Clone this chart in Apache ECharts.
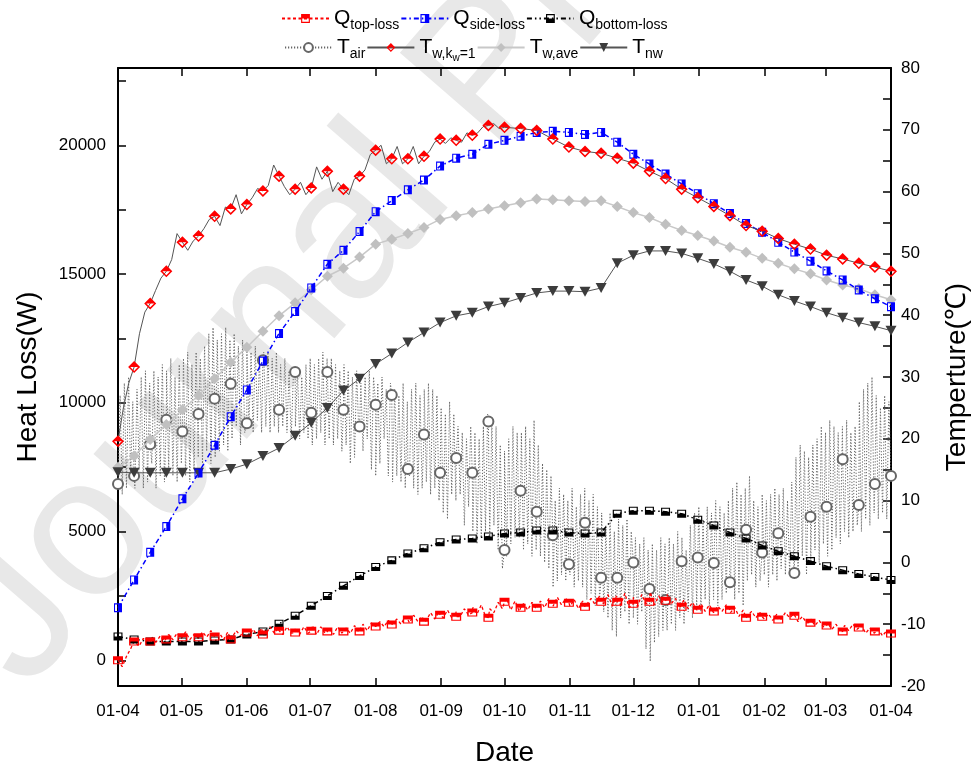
<!DOCTYPE html>
<html>
<head>
<meta charset="utf-8">
<title>Heat loss and temperature</title>
<script src="https://cdn.jsdelivr.net/npm/echarts@6.0.0/dist/echarts.min.js"></script>
<style>
  html, body { margin: 0; padding: 0; background: #ffffff; }
  #chart { width: 979px; height: 772px; }
</style>
</head>
<body>
<div id="chart"></div>
<script>
// ---------- time base ----------
const DAY_MS = 86400000;
const START_DATE = '2015-04-01';
const END_DATE = '2016-04-01';
// symbols sit every 183 hourly samples (7.625 days)
const SYMBOL_STEP_DAYS = 7.625;
const TOP_LOSS_STEP_DAYS = 2;   // Q_top-loss trace sampling
const AIR_STEP_DAYS = 1;        // T_air trace sampling

const monthTickDates = ['2015-04-01', '2015-05-01', '2015-06-01', '2015-07-01', '2015-08-01',
  '2015-09-01', '2015-10-01', '2015-11-01', '2015-12-01', '2016-01-01', '2016-02-01',
  '2016-03-01', '2016-04-01'];
const heatLossLabelValues = [0, 5000, 10000, 15000, 20000];
const heatLossTickValues = [0, 2500, 5000, 7500, 10000, 12500, 15000, 17500, 20000, 22500];

// ---------- heat loss (W), values at symbol positions ----------
const qTopMarks = [0, 730, 730, 810, 890, 890, 920, 810, 1080, 1000, 1150, 1080, 1150, 1120, 1120,
  1120, 1310, 1390, 1580, 1500, 1770, 1690, 1850, 1650, 2270, 2040, 2040, 2190, 2230, 2080, 2270,
  2270, 2190, 2270, 2310, 2080, 1960, 1890, 1960, 1650, 1690, 1580, 1730, 1460, 1350, 1120, 1270,
  1120, 1040];
// Q_top-loss trace, one value every 2 days
const qTopTrace = [
  0, -250, 150, 450, 700, 550, 850, 650, 900, 700,
  950, 750, 1000, 800, 1050, 850, 1100, 800, 1000, 850,
  1100, 900, 1150, 900, 1050, 800, 1100, 850, 1150, 950,
  1250, 950, 1200, 950, 1250, 1000, 1300, 1050, 1250, 1000,
  1300, 1050, 1250, 1000, 1300, 1050, 1350, 1000, 1300, 1050,
  1250, 1000, 1300, 1050, 1250, 1050, 1350, 1100, 1400, 1150,
  1450, 1250, 1500, 1300, 1550, 1350, 1600, 1400, 1700, 1450,
  1750, 1500, 1700, 1550, 1850, 1600, 1900, 1650, 1950, 1650,
  1900, 1700, 2000, 1750, 2050, 1800, 2150, 1700, 2000, 1850,
  2250, 2000, 2400, 1950, 2300, 1900, 2200, 1950, 2250, 2000,
  2300, 2050, 2400, 2100, 2450, 2150, 2400, 2100, 2350, 2000,
  2300, 2050, 2400, 2150, 2500, 2200, 2550, 2100, 2500, 2150,
  2600, 2050, 2450, 2100, 2550, 2200, 2650, 2150, 2500, 2250,
  2550, 2200, 2400, 2050, 2350, 2000, 2250, 1950, 2200, 1900,
  2150, 1850, 2100, 1900, 2150, 1850, 2050, 1700, 1950, 1650,
  1900, 1650, 1850, 1600, 1800, 1550, 1800, 1600, 1850, 1650,
  1800, 1500, 1700, 1450, 1600, 1350, 1550, 1300, 1450, 1200,
  1400, 1100, 1350, 1150, 1400, 1200, 1350, 1050, 1250, 1050,
  1200, 950, 1150, 1100];
const qSideMarks = [2040, 3120, 4190, 5190, 6270, 7270, 8350, 9460, 10500, 11620, 12690, 13540,
  14460, 15380, 15920, 16650, 17420, 17850, 18270, 18650, 19190, 19500, 19650, 20040, 20190, 20350,
  20500, 20540, 20500, 20420, 20500, 20120, 19650, 19270, 18880, 18500, 18120, 17730, 17350, 16960,
  16620, 16230, 15850, 15500, 15120, 14770, 14380, 14040, 13730];
const qBottomMarks = [920, 810, 730, 730, 730, 730, 770, 810, 1000, 1120, 1420, 1730, 2120, 2500,
  2890, 3270, 3620, 3880, 4150, 4350, 4580, 4690, 4730, 4810, 4920, 4960, 5040, 5040, 4960, 4920,
  4960, 5690, 5810, 5810, 5770, 5690, 5460, 5230, 4960, 4730, 4460, 4230, 4040, 3850, 3650, 3500,
  3350, 3230, 3120];

// ---------- temperatures (°C), values at symbol positions ----------
const tAirMarks = [12.7, 14.0, 19.1, 23.1, 21.2, 24.0, 26.5, 28.9, 22.5, 32.7, 24.7, 30.8, 24.2,
  30.8, 24.7, 22.0, 25.5, 27.1, 15.1, 20.7, 14.5, 16.9, 14.5, 22.8, 2.0, 11.6, 8.2, 4.4, -0.3, 6.4,
  -2.5, -2.5, 0.0, -4.3, -6.1, 0.2, 0.8, -0.1, -3.2, 5.3, 1.6, 4.7, -1.7, 7.4, 9.0, 16.7, 9.3,
  12.7, 14.0];
// T_air trace, one value per day (day/night swing)
const tAirTrace = [
  13, 27, 11, 29, 12, 30, 14, 26, 12, 28,
  15, 30, 12, 31, 13, 29, 16, 31, 12, 30,
  14, 32, 13, 31, 15, 33, 14, 30, 13, 32,
  16, 33, 14, 34, 13, 32, 15, 34, 17, 33,
  16, 35, 18, 37, 16, 38, 17, 36, 18, 37,
  19, 38, 18, 36, 20, 37, 22, 35, 19, 36,
  21, 35, 22, 34, 21, 35, 23, 33, 21, 34,
  22, 34, 21, 33, 22, 34, 21, 32, 22, 33,
  21, 31, 20, 30, 22, 31, 20, 30, 21, 32,
  20, 33, 19, 32, 20, 33, 21, 34, 19, 33,
  20, 33, 19, 32, 20, 31, 18, 32, 19, 31,
  16, 30, 17, 31, 21, 29, 18, 30, 20, 31,
  15, 30, 14, 29, 16, 30, 20, 28, 14, 29,
  13, 28, 14, 27, 13, 29, 12, 26, 14, 28,
  12, 29, 11, 27, 12, 28, 13, 29, 11, 28,
  12, 27, 10, 25, 8, 24, 7, 26, 11, 24,
  10, 22, 11, 21, 6, 20, 9, 22, 5, 21,
  3, 20, 4, 22, 5, 24, 4, 23, 6, 22,
  2, 19, -1, 18, 1, 20, 3, 22, 4, 21,
  4, 21, 2, 22, 3, 20, 1, 23, 2, 19,
  1, 16, 0, 15, -1, 14, -4, 10, -3, 12,
  -2, 11, -3, 10, -2, 12, -4, 9, -3, 11,
  -4, 12, -6, 10, -5, 11, -7, 9, -6, 8,
  -8, 6, -9, 8, -11, 5, -12, 7, -9, 6,
  -8, 7, -10, 5, -9, 4, -10, 3, -8, 4,
  -14, 2, -16, 3, -13, 2, -12, 4, -11, 3,
  -11, 4, -10, 3, -11, 5, -9, 4, -10, 2,
  -8, 6, -9, 8, -7, 9, -8, 7, -6, 9,
  -7, 8, -6, 10, -7, 9, -6, 8, -5, 10,
  -4, 12, -6, 13, -5, 11, -7, 12, -3, 14,
  -2, 10, -4, 9, -3, 11, -2, 10, -4, 11,
  -2, 12, -3, 11, -1, 12, -2, 10, -2, 13,
  -1, 17, -2, 19, 1, 18, -2, 17, 0, 19,
  2, 20, 0, 22, 3, 21, 1, 23, 2, 22,
  4, 21, 3, 22, 5, 23, 4, 21, 5, 22,
  6, 26, 5, 28, 7, 29, 6, 30, 8, 27,
  7, 25, 8, 27, 7, 26];
const tw1Marks = [19.6, 31.6, 41.9, 47.1, 51.8, 52.8, 56.0, 57.2, 57.9, 60.1, 62.5, 60.4, 60.6,
  63.3, 60.4, 62.5, 66.7, 65.3, 65.3, 65.7, 68.5, 68.3, 69.1, 70.7, 70.4, 70.2, 69.9, 68.5, 67.2,
  66.5, 66.2, 65.4, 64.6, 63.3, 62.1, 60.4, 59.0, 57.6, 56.1, 54.5, 53.6, 52.4, 51.5, 50.7, 49.7,
  49.1, 48.4, 47.8, 47.1];
// two extra samples between each pair of symbols while the water is still heating (Apr - Sep)
const tw1Between = [25, 29, 37, 40.5, 44, 46, 49, 53.2, 50.5, 52, 54, 55.5, 54.5, 57.5, 59.5, 56.4,
  59, 60.5, 61, 64.3, 60.8, 59.5, 61.5, 59.5, 64, 62, 60, 61.5, 59.5, 62, 63.5, 66, 67.5, 64.5,
  67.3, 64.5, 67.3, 64.5, 66.5, 68, 67.8, 68.7, 68, 69.5, 69.5, 70.5, 71, 70.2];
const twAveMarks = [15.4, 17.2, 19.9, 22.3, 24.7, 27.0, 29.7, 32.4, 34.8, 37.4, 39.9, 42.0, 44.1,
  46.3, 47.6, 49.4, 51.5, 52.3, 53.2, 54.2, 55.5, 56.1, 56.6, 57.2, 57.7, 58.2, 58.8, 58.7, 58.5,
  58.4, 58.5, 57.6, 56.6, 55.8, 54.7, 53.7, 52.9, 52.0, 51.0, 50.2, 49.2, 48.4, 47.5, 46.7, 45.7,
  44.9, 44.3, 43.3, 42.5];
const tnwMarks = [14.6, 14.5, 14.5, 14.5, 14.5, 14.5, 14.5, 15.1, 15.9, 17.2, 18.5, 20.5, 22.6,
  25.0, 27.8, 29.7, 32.1, 33.8, 35.6, 37.2, 38.8, 39.9, 40.4, 41.4, 42.0, 42.8, 43.6, 43.9, 43.9,
  43.8, 44.4, 48.4, 49.7, 50.4, 50.4, 50.0, 49.2, 48.3, 47.1, 45.7, 44.7, 43.3, 42.3, 41.4, 40.4,
  39.6, 38.8, 38.2, 37.5];

// ---------- helpers ----------
function utc(s) {
  const p = s.split('-').map(Number);
  return Date.UTC(p[0], p[1] - 1, p[2]);
}
const T0 = utc(START_DATE);
const T1 = utc(END_DATE);
const monthTicks = monthTickDates.map(utc);
const symbolStepMs = SYMBOL_STEP_DAYS * DAY_MS;

function symbolPoints(vals) {
  return vals.map((v, i) => ({ value: [T0 + i * symbolStepMs, v] }));
}
function tracePoints(vals, stepDays) {
  return vals.map((v, k) => ({ value: [T0 + k * stepDays * DAY_MS, v], symbol: 'none' }));
}
function withTrace(marks, trace) {
  return marks.concat(trace).sort((a, b) => a.value[0] - b.value[0]);
}
function tw1Points() {
  const pts = [];
  for (let i = 0; i * 2 < tw1Between.length; i++) {
    for (let k = 0; k < 2; k++) {
      pts.push({ value: [T0 + (i + (k + 1) / 3) * symbolStepMs, tw1Between[i * 2 + k]], symbol: 'none' });
    }
  }
  return withTrace(symbolPoints(tw1Marks), pts);
}
function pad2(n) { return (n < 10 ? '0' : '') + n; }
function dayMonth(v) {
  const d = new Date(v);
  return pad2(d.getUTCDate()) + '-' + pad2(d.getUTCMonth() + 1);
}

// ---------- symbols ----------
const SYM_TOP_FILLED_SQUARE = 'path://M0,0H10V10H0Z M1.3,5V8.7H8.7V5Z';
const SYM_RIGHT_FILLED_SQUARE = 'path://M0,0H10V10H0Z M1.3,1.3V8.7H5V1.3Z';
const SYM_BOTTOM_FILLED_SQUARE = 'path://M0,0H10V10H0Z M1.3,1.3V5H8.7V1.3Z';
const SYM_TOP_FILLED_DIAMOND = 'path://M5,0L10,5L5,10L0,5Z M1.8,5L5,8.2L8.2,5Z';
const SYM_DOWN_TRIANGLE = 'path://M0,0H10L5,9Z';

const FONT = '"Liberation Sans", Arial, Helvetica, sans-serif';

const legendText = {
  'Q_top-loss': '{m|Q}{s|top-loss}',
  'Q_side-loss': '{m|Q}{s|side-loss}',
  'Q_bottom-loss': '{m|Q}{s|bottom-loss}',
  'T_air': '{m|T}{s|air}',
  'T_w,kw=1': '{m|T}{s|w,k}{ss|w}{s|=1}',
  'T_w,ave': '{m|T}{s|w,ave}',
  'T_nw': '{m|T}{s|nw}'
};
const legendRich = {
  m: { fontSize: 21, fontFamily: FONT, color: '#000' },
  s: { fontSize: 14, fontFamily: FONT, color: '#000', padding: [14, 0, 0, 0] },
  ss: { fontSize: 10, fontFamily: FONT, color: '#000', padding: [22, 0, 0, 0] }
};
function legendBlock(names, left, top) {
  return {
    data: names, left: left, top: top, orient: 'horizontal',
    itemWidth: 47, itemHeight: 11, itemGap: 1, padding: 0,
    formatter: (name) => legendText[name],
    textStyle: { rich: legendRich, fontFamily: FONT },
    selectedMode: false
  };
}

const axisBlack = { color: '#000', width: 2 };
const tickBlack = { color: '#000', width: 1.5 };

const option = {
  animation: false,
  backgroundColor: '#ffffff',
  textStyle: { fontFamily: FONT },
  graphic: [{
    type: 'text', silent: true, z: -10,
    x: 60, y: 722, rotation: 49 * Math.PI / 180,
    style: {
      text: 'Journal Pre-proof', fill: '#e8e8e8',
      font: '200px ' + FONT, align: 'left', verticalAlign: 'bottom'
    }
  }],
  legend: [
    legendBlock(['Q_top-loss', 'Q_side-loss', 'Q_bottom-loss'], 281, 8),
    legendBlock(['T_air', 'T_w,kw=1', 'T_w,ave', 'T_nw'], 284, 37)
  ],
  grid: { left: 118, right: 86, top: 68, bottom: 80, containLabel: false },
  xAxis: [{
    type: 'value', min: T0, max: T1, position: 'bottom',
    name: 'Date', nameLocation: 'middle', nameGap: 53,
    nameTextStyle: { fontSize: 28, color: '#000', fontFamily: FONT },
    axisLine: { onZero: false, lineStyle: axisBlack },
    axisTick: { inside: true, length: 8, lineStyle: tickBlack, customValues: monthTicks },
    axisLabel: {
      customValues: monthTicks, fontSize: 17, color: '#000', margin: 17, fontFamily: FONT,
      formatter: dayMonth, hideOverlap: false
    },
    splitLine: { show: false }
  }, {
    type: 'value', min: T0, max: T1, position: 'top',
    axisLine: { onZero: false, lineStyle: axisBlack },
    axisTick: { inside: true, length: 8, lineStyle: tickBlack, customValues: monthTicks },
    axisLabel: { show: false },
    splitLine: { show: false }
  }],
  yAxis: [{
    type: 'value', min: -1000, max: 23000, position: 'left',
    name: 'Heat Loss(W)', nameLocation: 'middle', nameGap: 76, nameRotate: 90,
    nameTextStyle: { fontSize: 28, color: '#000', fontFamily: FONT },
    axisLine: { show: true, onZero: false, lineStyle: axisBlack },
    axisTick: { show: true, inside: true, length: 8, lineStyle: tickBlack, customValues: heatLossTickValues },
    axisLabel: {
      customValues: heatLossLabelValues, fontSize: 17, color: '#000', margin: 12, fontFamily: FONT,
      formatter: (v) => String(v)
    },
    splitLine: { show: false }
  }, {
    type: 'value', min: -20, max: 80, interval: 5, position: 'right',
    name: 'Temperture(℃)', nameLocation: 'middle', nameGap: 52, nameRotate: 90,
    nameTextStyle: { fontSize: 28, color: '#000', fontFamily: FONT },
    axisLine: { show: true, onZero: false, lineStyle: axisBlack },
    axisTick: { show: true, inside: true, length: 8, lineStyle: tickBlack },
    axisLabel: {
      fontSize: 17, color: '#000', margin: 10, fontFamily: FONT,
      formatter: (v) => (Math.round(v) % 10 === 0 ? String(v) : '')
    },
    splitLine: { show: false }
  }],
  series: [{
    name: 'T_air', type: 'line', yAxisIndex: 1, z: 2,
    data: withTrace(symbolPoints(tAirMarks), tracePoints(tAirTrace, AIR_STEP_DAYS)),
    symbol: 'emptyCircle', symbolSize: 10,
    lineStyle: { color: '#666', width: 1, type: [1.2, 1.8] },
    itemStyle: { color: '#666', borderWidth: 1 }
  }, {
    name: 'T_w,ave', type: 'line', yAxisIndex: 1, z: 3,
    data: symbolPoints(twAveMarks),
    symbol: 'diamond', symbolSize: 11,
    lineStyle: { color: '#c8c8c8', width: 1.5 },
    itemStyle: { color: '#c0c0c0' }
  }, {
    name: 'T_nw', type: 'line', yAxisIndex: 1, z: 3,
    data: symbolPoints(tnwMarks),
    symbol: SYM_DOWN_TRIANGLE, symbolSize: [11, 10],
    lineStyle: { color: '#555', width: 1 },
    itemStyle: { color: '#3c3c3c' }
  }, {
    name: 'Q_bottom-loss', type: 'line', yAxisIndex: 0, z: 4,
    data: symbolPoints(qBottomMarks),
    symbol: SYM_BOTTOM_FILLED_SQUARE, symbolSize: [9, 8],
    lineStyle: { color: '#000', width: 1.5, type: [5, 3, 1.5, 3, 1.5, 3] },
    itemStyle: { color: '#000' }
  }, {
    name: 'Q_top-loss', type: 'line', yAxisIndex: 0, z: 4,
    data: withTrace(symbolPoints(qTopMarks), tracePoints(qTopTrace, TOP_LOSS_STEP_DAYS)),
    symbol: SYM_TOP_FILLED_SQUARE, symbolSize: [10, 8],
    lineStyle: { color: '#ff0000', width: 1.3, type: [3, 2.5] },
    itemStyle: { color: '#ff0000' }
  }, {
    name: 'Q_side-loss', type: 'line', yAxisIndex: 0, z: 5,
    data: symbolPoints(qSideMarks),
    symbol: SYM_RIGHT_FILLED_SQUARE, symbolSize: [8, 9],
    lineStyle: { color: '#0000ff', width: 1.5, type: [5, 3, 1.5, 3] },
    itemStyle: { color: '#0000ff' }
  }, {
    name: 'T_w,kw=1', type: 'line', yAxisIndex: 1, z: 6,
    data: tw1Points(),
    symbol: SYM_TOP_FILLED_DIAMOND, symbolSize: 12,
    lineStyle: { color: '#555', width: 1 },
    itemStyle: { color: '#ff0000' }
  }]
};

const chart = echarts.init(document.getElementById('chart'), null, { renderer: 'canvas' });
chart.setOption(option);
</script>
</body>
</html>
